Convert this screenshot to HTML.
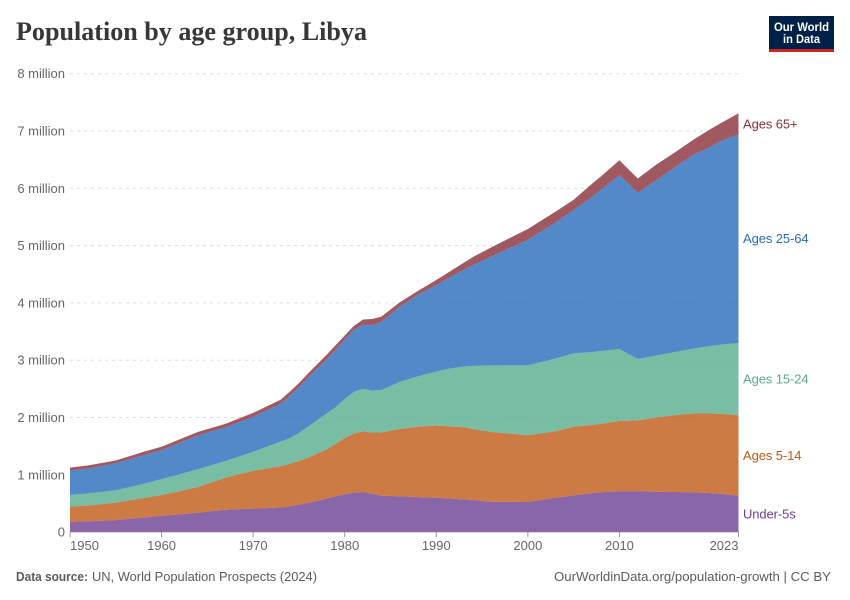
<!DOCTYPE html>
<html lang="en">
<head>
<meta charset="utf-8">
<title>Population by age group, Libya</title>
<style>
html,body{margin:0;padding:0;background:#fff;}
body{width:850px;height:600px;overflow:hidden;font-family:"Liberation Sans",sans-serif;}
svg{display:block;}
text{font-family:"Liberation Sans",sans-serif;}
</style>
</head>
<body>
<svg id="chart" width="850" height="600" viewBox="0 0 850 600" xmlns="http://www.w3.org/2000/svg">
  <text x="16" y="40" textLength="351" lengthAdjust="spacingAndGlyphs" style="font-family:'Liberation Serif',serif;font-weight:700;font-size:26px;fill:#373737">Population by age group, Libya</text>
  <g>
    <rect x="769" y="16" width="65" height="36" fill="#002147"></rect>
    <rect x="769" y="49" width="65" height="3" fill="#ce261e"></rect>
    <text x="801.5" y="31" text-anchor="middle" textLength="55" lengthAdjust="spacingAndGlyphs" style="font-size:12px;font-weight:700;fill:#fff">Our World</text>
    <text x="801.5" y="43" text-anchor="middle" textLength="37" lengthAdjust="spacingAndGlyphs" style="font-size:12px;font-weight:700;fill:#fff">in Data</text>
  </g>
  <g id="grid"></g>
  <g id="areas"></g>
  <g id="axis"></g>
  <g id="labels"></g>
  <text x="16" y="581" textLength="72" lengthAdjust="spacingAndGlyphs" style="font-size:12.5px;font-weight:700;fill:#5b5b5b">Data source:</text>
  <text x="92" y="581" textLength="225" lengthAdjust="spacingAndGlyphs" style="font-size:12.5px;fill:#5b5b5b">UN, World Population Prospects (2024)</text>
  <text x="831" y="581" text-anchor="end" textLength="277" lengthAdjust="spacingAndGlyphs" style="font-size:12.5px;fill:#5b5b5b">OurWorldinData.org/population-growth | CC BY</text>
</svg>
<script>
const years = [1950,1952,1955,1958,1960,1962,1964,1967,1970,1973,1974,1975,1976,1978,1979,1980,1981,1982,1983,1984,1986,1988,1990,1991,1993,1994,1996,2000,2003,2005,2007,2008,2010,2012,2014,2016,2018,2020,2021,2023];
const under5 = [.18,.19,.21,.255,.285,.31,.34,.39,.41,.43,.45,.48,.51,.585,.625,.66,.69,.70,.67,.635,.625,.61,.60,.59,.57,.56,.53,.525,.60,.64,.68,.695,.71,.71,.705,.70,.695,.68,.67,.635];
const ages5to14 = [.265,.275,.305,.34,.362,.405,.45,.56,.66,.72,.74,.76,.79,.855,.915,.98,1.03,1.06,1.065,1.105,1.175,1.23,1.26,1.26,1.26,1.24,1.22,1.165,1.16,1.20,1.19,1.195,1.23,1.24,1.295,1.34,1.375,1.39,1.395,1.405];
const ages15to24 = [.202,.21,.215,.245,.278,.295,.31,.29,.33,.43,.45,.49,.54,.63,.64,.68,.73,.74,.735,.74,.82,.88,.94,.99,1.06,1.10,1.16,1.22,1.27,1.28,1.27,1.27,1.255,1.07,1.08,1.10,1.13,1.18,1.205,1.26];
const ages25to64 = [.423,.435,.47,.50,.505,.55,.59,.59,.61,.66,.74,.80,.86,.94,1.00,1.04,1.08,1.12,1.14,1.19,1.31,1.42,1.51,1.56,1.69,1.76,1.90,2.19,2.37,2.50,2.71,2.82,3.035,2.90,3.06,3.22,3.38,3.48,3.55,3.64];
const ages65plus = [.055,.055,.05,.06,.06,.06,.06,.06,.07,.07,.07,.07,.07,.08,.08,.07,.07,.09,.11,.09,.08,.07,.09,.10,.12,.14,.16,.19,.19,.18,.23,.23,.26,.25,.27,.26,.26,.31,.31,.37];
const yTickValues = [0,1,2,3,4,5,6,7,8];
const yTickLabels = ['0','1 million','2 million','3 million','4 million','5 million','6 million','7 million','8 million'];
const xTickYears = [1950,1960,1970,1980,1990,2000,2010,2023];
const seriesNames = ['Under-5s','Ages 5-14','Ages 15-24','Ages 25-64','Ages 65+'];
const seriesSlugs = ['under-5s','ages-5-14','ages-15-24','ages-25-64','ages-65-plus'];
const seriesColors = ['#6d3e91','#c05917','#58ac8c','#286bbb','#883039'];
const allSeries = [under5,ages5to14,ages15to24,ages25to64,ages65plus];

const NS = 'http://www.w3.org/2000/svg';
const X0 = 70, X1 = 738.5, Y0 = 532.1, PER_M = 57.3;
function xScale(y){ return X0 + (y - years[0]) / (years[years.length-1] - years[0]) * (X1 - X0); }
function yScale(v){ return Y0 - v * PER_M; }
function make(tag, attrs, parent){
  const el = document.createElementNS(NS, tag);
  for (const k in attrs) el.setAttribute(k, attrs[k]);
  parent.appendChild(el);
  return el;
}
const gridG = document.getElementById('grid');
const areasG = document.getElementById('areas');
const axisG = document.getElementById('axis');
const labelsG = document.getElementById('labels');

yTickValues.forEach(function(v, i){
  if (v > 0) {
    const line = make('line', {x1:X0, x2:X1, y1:yScale(v), y2:yScale(v), stroke:'#dddddd', 'stroke-width':1, 'stroke-dasharray':'3,4'}, gridG);
    
    
  }
  const t = make('text', {x:65, y:yScale(v)+4.5, 'text-anchor':'end', style:'font-size:13px;fill:#666'}, axisG);
  t.textContent = yTickLabels[i];
  
  
});

const cumulative = years.map(function(){ return 0; });
const tops = [];
allSeries.forEach(function(vals, s){
  const lower = cumulative.slice();
  vals.forEach(function(v, i){ cumulative[i] += v; });
  const upper = cumulative.slice();
  tops.push({lower:lower[lower.length-1], upper:upper[upper.length-1]});
  let d = '';
  years.forEach(function(y, i){ d += (i ? 'L' : 'M') + xScale(y).toFixed(2) + ' ' + yScale(upper[i]).toFixed(2); });
  for (let i = years.length-1; i >= 0; i--) d += 'L' + xScale(years[i]).toFixed(2) + ' ' + yScale(lower[i]).toFixed(2);
  d += 'Z';
  const p = make('path', {d:d, fill:seriesColors[s], 'fill-opacity':0.8, stroke:'none'}, areasG);
  
  
});

const baseline = make('line', {x1:X0, x2:X1, y1:Y0, y2:Y0, stroke:'#999', 'stroke-width':0.5}, axisG);


xTickYears.forEach(function(y, i){
  const x = xScale(y);
  const tick = make('line', {x1:x, x2:x, y1:Y0, y2:Y0+5, stroke:'#999', 'stroke-width':1}, axisG);
  
  
  const anchor = i === 0 ? 'start' : (i === xTickYears.length-1 ? 'end' : 'middle');
  const t = make('text', {x:x, y:550, 'text-anchor':anchor, style:'font-size:13px;fill:#666'}, axisG);
  t.textContent = y;
  
  
});

seriesNames.forEach(function(name, s){
  const mid = (tops[s].lower + tops[s].upper) / 2;
  const t = make('text', {x:743, y:yScale(mid)+4.5, style:'font-size:13px;letter-spacing:-0.1px;fill:' + seriesColors[s]}, labelsG);
  t.textContent = name;
  
  
});
</script>
</body>
</html>
